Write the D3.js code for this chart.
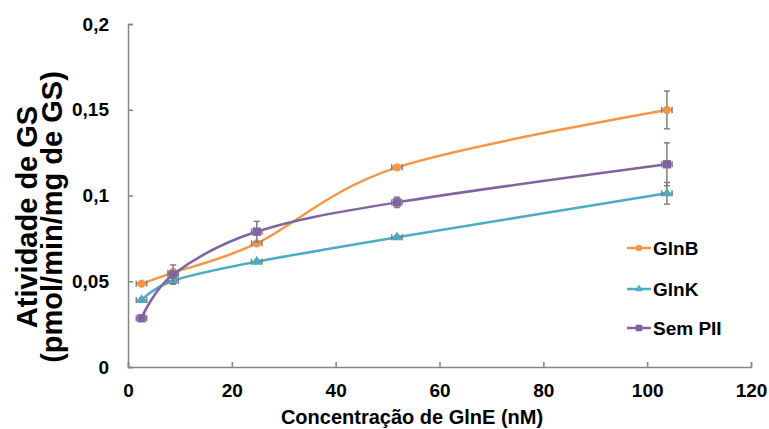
<!DOCTYPE html>
<html>
<head>
<meta charset="utf-8">
<title>Atividade de GS</title>
<script src="https://d3js.org/d3.v7.min.js"></script>
<style>
  body { margin: 0; background: #fff; font-family: "Liberation Sans", Arial, sans-serif; }
  svg text { font-family: "Liberation Sans", Arial, sans-serif; }
  .tick text { font-weight: bold; font-size: 19px; fill: #000; }
</style>
</head>
<body>
<div id="chart"></div>
<script>
// ---- data ----
var conc = [2.6, 8.7, 24.8, 51.8, 103.8];
var concErr = [1, 1, 1, 1, 1];
var glnB = [0.0486, 0.055, 0.0721, 0.1164, 0.1499];
var glnBErr = [0.001, 0.002, 0.001, 0.001, 0.011];
var glnK = [0.039, 0.0503, 0.0614, 0.0756, 0.1013];
var glnKErr = [0.001, 0.002, 0.001, 0.001, 0.0063];
var semPII = [0.0284, 0.054, 0.0789, 0.096, 0.1182];
var semPIIErr = [0.001, 0.0055, 0.006, 0.003, 0.0125];
var seriesNames = ["GlnB", "GlnK", "Sem PII"];
var xTicks = [0, 20, 40, 60, 80, 100, 120];
var yTicks = [0, 0.05, 0.1, 0.15, 0.2];

var width = 769, height = 429;
var margin = {left: 128, top: 24, right: 18, bottom: 62};

var series = [
  {name: seriesNames[0], values: glnB, err: glnBErr, color: "#F79646", shape: d3.symbolCircle, size: 55},
  {name: seriesNames[1], values: glnK, err: glnKErr, color: "#4BACC6", shape: d3.symbolTriangle, size: 45},
  {name: seriesNames[2], values: semPII, err: semPIIErr, color: "#8064A2", shape: d3.symbolSquare, size: 70}
];

var svg = d3.select("#chart").append("svg")
  .attr("width", width).attr("height", height);

var x = d3.scaleLinear().domain([0, 120]).range([margin.left, width - margin.right]);
var y = d3.scaleLinear().domain([0, 0.2]).range([height - margin.bottom, margin.top]);

var pt = d3.formatLocale({decimal: ",", thousands: ".", grouping: [3], currency: ["", ""]});
var yFmt = function(d) { return d === 0 ? "0" : pt.format("~g")(d); };

var axisColor = "#868686";

// y axis (ticks pointing in)
var yAxis = svg.append("g")
  .attr("transform", "translate(" + margin.left + ",0)")
  .call(d3.axisLeft(y).tickValues(yTicks).tickFormat(yFmt).tickSize(-5).tickPadding(19));
// x axis (ticks pointing up)
var xAxis = svg.append("g")
  .attr("transform", "translate(0," + (height - margin.bottom) + ")")
  .call(d3.axisBottom(x).tickValues(xTicks).tickSize(-5).tickPadding(17));

[yAxis, xAxis].forEach(function(a) {
  a.select(".domain").attr("stroke", axisColor).attr("stroke-width", 1.5);
  a.selectAll(".tick line").attr("stroke", axisColor).attr("stroke-width", 1.5);
});

// axis titles
svg.append("text")
  .attr("x", 412)
  .attr("y", 424)
  .attr("text-anchor", "middle")
  .style("font-weight", "bold").style("font-size", "20px")
  .text("Concentração de GlnE (nM)");

var yTitle = svg.append("text")
  .attr("transform", "translate(37,217) rotate(-90)")
  .attr("text-anchor", "middle")
  .style("font-weight", "bold").style("font-size", "29px");
yTitle.append("tspan").attr("x", 0).attr("y", 0).text("Atividade de GS");
yTitle.append("tspan").attr("x", 0).attr("y", 25).text("(pmol/min/mg de GS)");

// lines
var line = d3.line()
  .x(function(d, i) { return x(conc[i]); })
  .y(function(d) { return y(d); })
  .curve(d3.curveCardinal.tension(0));

var cap = 3;
series.forEach(function(s) {
  var g = svg.append("g");
  g.append("path")
    .attr("d", line(s.values))
    .attr("fill", "none")
    .attr("stroke", s.color)
    .attr("stroke-width", 2.5);

  // error bars
  var eb = g.selectAll(".eb").data(s.values).enter().append("g")
    .attr("stroke", "#7f7f7f").attr("stroke-width", 1.5);
  eb.append("line")
    .attr("x1", function(d, i) { return x(conc[i]); })
    .attr("x2", function(d, i) { return x(conc[i]); })
    .attr("y1", function(d, i) { return y(d - s.err[i]); })
    .attr("y2", function(d, i) { return y(d + s.err[i]); });
  eb.append("line")
    .attr("x1", function(d, i) { return x(conc[i]) - cap; })
    .attr("x2", function(d, i) { return x(conc[i]) + cap; })
    .attr("y1", function(d, i) { return y(d + s.err[i]); })
    .attr("y2", function(d, i) { return y(d + s.err[i]); });
  eb.append("line")
    .attr("x1", function(d, i) { return x(conc[i]) - cap; })
    .attr("x2", function(d, i) { return x(conc[i]) + cap; })
    .attr("y1", function(d, i) { return y(d - s.err[i]); })
    .attr("y2", function(d, i) { return y(d - s.err[i]); });
  eb.append("line")
    .attr("x1", function(d, i) { return x(conc[i] - concErr[i]); })
    .attr("x2", function(d, i) { return x(conc[i] + concErr[i]); })
    .attr("y1", function(d) { return y(d); })
    .attr("y2", function(d) { return y(d); });
  eb.append("line")
    .attr("x1", function(d, i) { return x(conc[i] - concErr[i]); })
    .attr("x2", function(d, i) { return x(conc[i] - concErr[i]); })
    .attr("y1", function(d) { return y(d) - cap; })
    .attr("y2", function(d) { return y(d) + cap; });
  eb.append("line")
    .attr("x1", function(d, i) { return x(conc[i] + concErr[i]); })
    .attr("x2", function(d, i) { return x(conc[i] + concErr[i]); })
    .attr("y1", function(d) { return y(d) - cap; })
    .attr("y2", function(d) { return y(d) + cap; });

  // markers
  g.selectAll(".m").data(s.values).enter().append("path")
    .attr("d", d3.symbol().type(s.shape).size(s.size))
    .attr("transform", function(d, i) { return "translate(" + x(conc[i]) + "," + y(d) + ")"; })
    .attr("fill", s.color);
});

// legend
var legY = [248, 289, 328];
series.forEach(function(s, i) {
  var lg = svg.append("g").attr("transform", "translate(627," + legY[i] + ")");
  lg.append("line").attr("x1", 0).attr("x2", 24).attr("y1", 0).attr("y2", 0)
    .attr("stroke", s.color).attr("stroke-width", 2.5);
  lg.append("path").attr("d", d3.symbol().type(s.shape).size(s.size * 0.6))
    .attr("transform", "translate(12,0)").attr("fill", s.color);
  lg.append("text").attr("x", 26).attr("y", 0).attr("dy", "0.35em")
    .style("font-weight", "bold").style("font-size", "19px")
    .text(s.name);
});
</script>
</body>
</html>
